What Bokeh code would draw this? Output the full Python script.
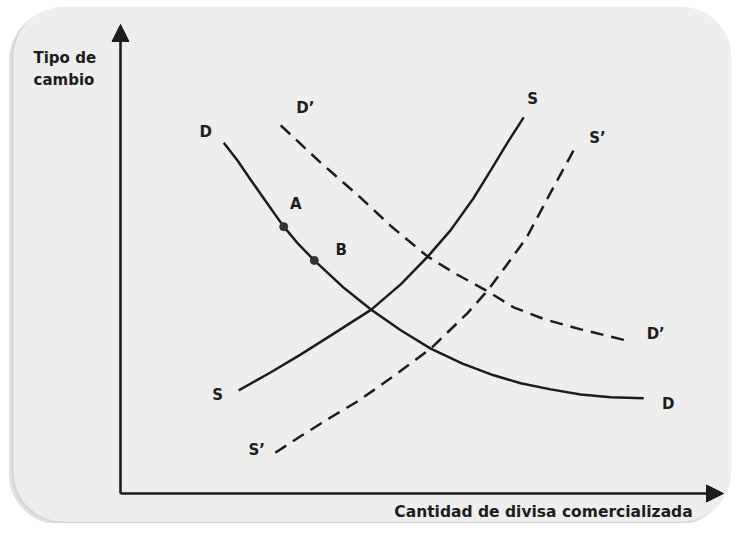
from bokeh.plotting import figure
from bokeh.models import Range1d, Arrow, NormalHead, ColumnDataSource
from bokeh.core.properties import value
from bokeh.embed import file_html
from bokeh.resources import INLINE

# ---- data (axis units: quantity 0-100, exchange rate 0-100) ----
d_x = [17.2, 19.5, 21.8, 24.5, 27.2, 29.7, 32.3, 37.0, 41.8, 46.7, 51.7, 57.0, 62.2, 66.7, 71.7, 76.7, 81.7, 87.2]
d_y = [74.8, 71.0, 66.7, 61.8, 56.9, 53.1, 49.7, 44.1, 39.2, 34.8, 30.9, 27.7, 25.2, 23.5, 22.2, 21.1, 20.5, 20.3]

s_x = [19.7, 25.0, 30.0, 35.8, 41.8, 46.7, 51.2, 55.0, 58.8, 61.7, 64.5, 67.2]
s_y = [22.0, 25.8, 29.6, 34.3, 39.2, 44.6, 50.5, 56.1, 62.9, 68.9, 74.8, 80.2]

d2_x = [26.7, 33.3, 40.0, 45.0, 51.2, 55.8, 61.2, 65.5, 70.8, 76.7, 85.0]
d2_y = [78.5, 70.6, 63.1, 57.1, 50.5, 46.9, 43.1, 39.7, 37.1, 35.0, 32.4]

s2_x = [25.8, 30.0, 35.0, 39.2, 43.3, 47.5, 51.7, 57.8, 61.2, 64.3, 67.7, 71.7, 75.5]
s2_y = [8.7, 12.2, 16.2, 19.4, 23.0, 26.9, 30.9, 38.4, 43.3, 48.6, 54.6, 64.2, 73.1]

pt_names = ["A", "B"]
pt_x = [27.2, 32.3]
pt_y = [56.9, 49.7]

curve_labels = ["D", "D’", "S", "S’", "D", "D’", "S", "S’", "A", "B"]
label_x = [14.2, 30.8, 68.7, 79.5, 91.3, 89.2, 16.2, 22.7, 29.2, 36.8]
label_y = [77.0, 82.1, 84.2, 75.7, 19.0, 34.1, 21.1, 9.2, 61.8, 52.0]

y_title = ["Tipo de", "cambio"]
x_title = "Cantidad de divisa comercializada"

FONT = "DejaVu Sans"
INK = "#1c1c1c"

p = figure(width=734, height=523, output_backend="svg", toolbar_location=None,
           x_range=Range1d(-20.0, 102.333), y_range=Range1d(-6.397, 105.117),
           min_border=0, outline_line_color=None,
           background_fill_color="white", border_fill_color="white")
p.axis.visible = False
p.grid.visible = False

# photo frame with rounded corners and soft shadow
p.quad(left=[-18.6], right=[101.3], top=[103.0], bottom=[-6.6],
       fill_color="#b0b0b0", fill_alpha=0.35, line_color=None, border_radius=50)
p.quad(left=[-18.2], right=[101.6], top=[103.5], bottom=[-6.3],
       fill_color="#c8c8c8", fill_alpha=0.45, line_color=None, border_radius=50)
p.quad(left=[-17.8], right=[101.8], top=[103.8], bottom=[-6.0],
       fill_color="#eeeeee", line_color=None, border_radius=50)

# axes with arrow heads
p.add_layout(Arrow(x_start=0, y_start=0, x_end=0, y_end=100,
                   line_color=INK, line_width=2.6,
                   end=NormalHead(size=17, fill_color=INK, line_color=INK)))
p.add_layout(Arrow(x_start=0, y_start=0, x_end=100.5, y_end=0,
                   line_color=INK, line_width=2.6,
                   end=NormalHead(size=17, fill_color=INK, line_color=INK)))

# curves
p.line(d_x, d_y, line_color=INK, line_width=2.5, line_join="round")
p.line(s_x, s_y, line_color=INK, line_width=2.5, line_join="round")
p.line(d2_x, d2_y, line_color=INK, line_width=2.5, line_dash="13 8")
p.line(s2_x, s2_y, line_color=INK, line_width=2.5, line_dash="13 8")

p.scatter(pt_x, pt_y, size=8, fill_color="#333333", line_color="#333333")

src = ColumnDataSource(dict(x=label_x, y=label_y, t=curve_labels))
p.text(x="x", y="y", text="t", source=src, text_font=value(FONT), text_font_style="bold",
       text_font_size="15px", text_align="center", text_baseline="middle", text_color=INK)

p.text(x=[-14.5, -14.5], y=[92.8, 88.1], text=y_title, text_font=value(FONT),
       text_font_style="bold", text_font_size="15px", text_align="left",
       text_baseline="middle", text_color=INK)
p.text(x=[70.5], y=[-4.05], text=[x_title], text_font=value(FONT),
       text_font_style="bold", text_font_size="15.5px", text_align="center",
       text_baseline="middle", text_color=INK)

open("out.html", "w").write(file_html(p, INLINE))
